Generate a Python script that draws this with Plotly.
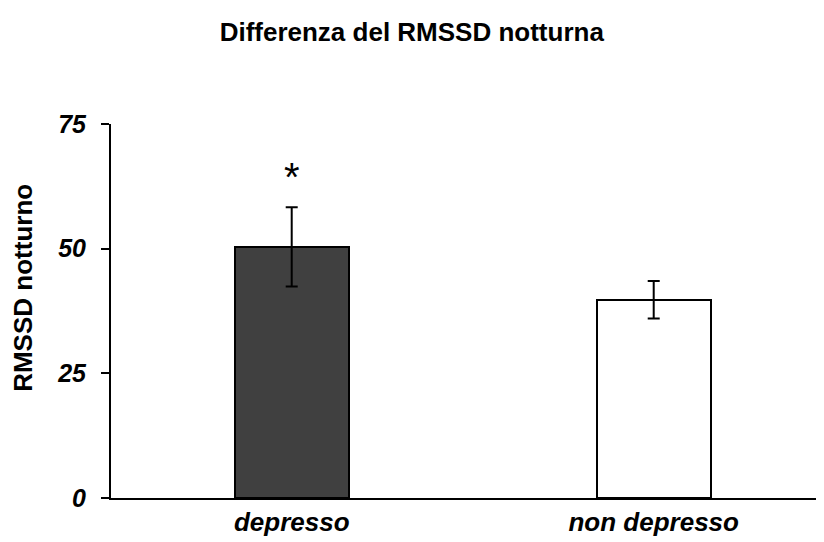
import plotly.graph_objects as go

categories = ["depresso", "non depresso"]
means = [50.4, 39.8]
err_plus = [7.9, 3.7]
err_minus = [8.0, 3.8]
bar_colors = ["#404040", "#ffffff"]
sig_marks = ["*", ""]
sig_y = [64.3, None]
y_ticks = [0, 25, 50, 75]

FONT = "Arial, 'Liberation Sans', sans-serif"
xpos = list(range(len(categories)))

fig = go.Figure()
fig.add_trace(go.Bar(
    x=xpos, y=means, width=0.315,
    marker=dict(color=bar_colors, line=dict(color="black", width=2)),
    error_y=dict(type="data", symmetric=False, array=err_plus, arrayminus=err_minus,
                 color="black", thickness=2, width=6),
    showlegend=False,
))

for xi, m, yv in zip(xpos, sig_marks, sig_y):
    if m:
        fig.add_annotation(x=xi, y=yv, text=m, showarrow=False,
                           font=dict(family=FONT, size=40, color="black"))

fig.add_annotation(
    text="<b>RMSSD notturno</b>", textangle=-90, showarrow=False,
    xref="paper", yref="paper", x=0, y=0.562, xanchor="center", yanchor="middle",
    xshift=-88, font=dict(family=FONT, size=26, color="black"),
)

fig.update_layout(
    width=824, height=542,
    margin=dict(l=103, r=0, t=116, b=52),
    paper_bgcolor="white", plot_bgcolor="white",
    title=dict(text="<b>Differenza del RMSSD notturna</b>", x=0.49, xref="container",
               xanchor="center", y=1 - 24 / 542, yref="container", yanchor="middle",
               font=dict(family=FONT, size=26, color="black")),
    font=dict(family=FONT, color="black"),
    bargap=0,
)

fig.update_xaxes(
    range=[-0.4992, 1.4925], tickmode="array", tickvals=xpos,
    ticktext=[f"<b><i>{c}</i></b>" for c in categories],
    tickfont=dict(family=FONT, size=26, color="black"),
    showline=True, linecolor="black", linewidth=2, ticks="", showgrid=False,
    zeroline=False, ticklabelstandoff=0,
)
fig.update_yaxes(
    range=[0, 75], tickmode="array", tickvals=y_ticks,
    ticktext=[f"<b><i>{t}</i></b>" for t in y_ticks],
    tickfont=dict(family=FONT, size=25, color="black"),
    showline=True, linecolor="black", linewidth=2, ticks="outside", ticklen=8,
    tickwidth=2, tickcolor="black", showgrid=False, zeroline=False,
    ticklabelstandoff=10,
)

fig.write_html("out.html")
